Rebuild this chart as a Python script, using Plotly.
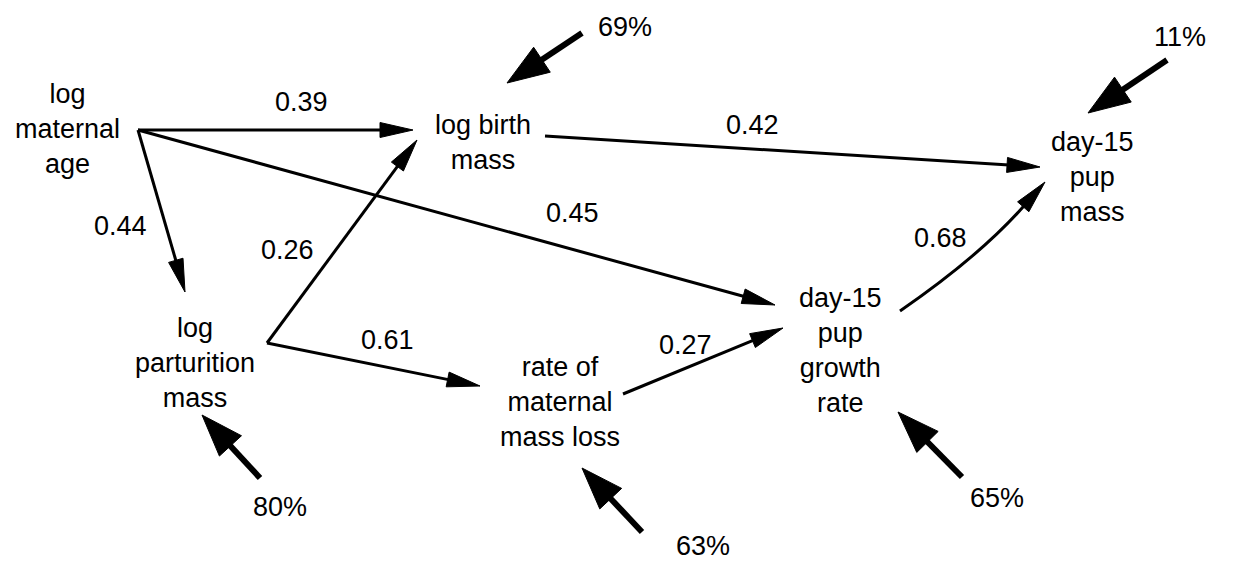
import math
import plotly.graph_objects as go

# path diagram data
variables = ["log<br>maternal<br>age", "log birth<br>mass", "day-15<br>pup<br>mass",
             "log<br>parturition<br>mass", "rate of<br>maternal<br>mass loss",
             "day-15<br>pup<br>growth<br>rate"]
path_from = [0, 0, 0, 3, 3, 4, 5, 1]
path_to = [1, 3, 5, 1, 4, 5, 2, 2]
path_coef = ["0.39", "0.44", "0.45", "0.26", "0.61", "0.27", "0.68", "0.42"]
residual_var = [1, 2, 3, 4, 5]
residual_pct = ["69%", "11%", "80%", "63%", "65%"]

# layout geometry (pixels of a 1234x562 canvas)
node_xy = [(67, 129), (483, 142), (1092, 177), (195, 363), (560, 402), (840, 350)]
path_geom = [  # start, end, label position, bend
    ((138, 130), (413, 130), (301, 102), 0),
    ((138, 130), (185, 292), (120, 226), 0),
    ((138, 130), (775, 305), (572, 213), 0),
    ((267, 343), (417, 140), (287, 250), 0),
    ((267, 343), (480, 386), (387, 340), 0),
    ((623, 394), (783, 328), (685, 345), 0),
    ((900, 311), (1045, 182), (940, 238), 12),
    ((545, 136), (1040, 167), (752, 125), 0),
]
resid_geom = [
    ((582, 33), (507, 83), (625, 27)),
    ((1167, 60), (1088, 113), (1180, 37)),
    ((260, 478), (202, 415), (280, 507)),
    ((642, 532), (582, 468), (703, 546)),
    ((962, 477), (898, 412), (997, 498)),
]

FONT = dict(family="Liberation Sans, Arial, sans-serif", size=27, color="black")

fig = go.Figure()
shapes = []
annotations = []


def add_arrow(p0, p1, lw, hl, hw, bend=0):
    x0, y0 = p0
    x1, y1 = p1
    if bend:
        mx, my = (x0 + x1) / 2, (y0 + y1) / 2
        dx, dy = x1 - x0, y1 - y0
        L = math.hypot(dx, dy)
        cx, cy = mx - dy / L * bend, my + dx / L * bend
        # direction at the tip
        ux, uy = x1 - cx, y1 - cy
    else:
        ux, uy = x1 - x0, y1 - y0
    L = math.hypot(ux, uy)
    ux, uy = ux / L, uy / L
    bx, by = x1 - ux * hl, y1 - uy * hl
    sx, sy = x1 - ux * (hl - 2), y1 - uy * (hl - 2)
    if bend:
        shaft = f"M{x0},{y0} Q{cx},{cy} {sx},{sy}"
    else:
        shaft = f"M{x0},{y0} L{sx},{sy}"
    shapes.append(dict(type="path", path=shaft, xref="x", yref="y",
                       line=dict(color="black", width=lw)))
    px, py = -uy, ux
    head = (f"M{x1},{y1} L{bx + px * hw},{by + py * hw} "
            f"L{bx - px * hw},{by - py * hw} Z")
    shapes.append(dict(type="path", path=head, xref="x", yref="y",
                       fillcolor="black", line=dict(color="black", width=1)))


for i in range(len(path_coef)):
    p0, p1, lab, bend = path_geom[i]
    add_arrow(p0, p1, 3, 33, 7.5, bend)
    annotations.append(dict(x=lab[0], y=lab[1], text=path_coef[i], showarrow=False,
                            xref="x", yref="y", font=FONT))

for i in range(len(residual_pct)):
    p0, p1, lab = resid_geom[i]
    add_arrow(p0, p1, 6, 42, 15)
    annotations.append(dict(x=lab[0], y=lab[1], text=residual_pct[i], showarrow=False,
                            xref="x", yref="y", font=FONT))

for name, (x, y) in zip(variables, node_xy):
    annotations.append(dict(x=x, y=y, text=name, showarrow=False, xref="x", yref="y",
                            font=FONT, align="center"))

fig.update_layout(
    width=1234, height=562,
    margin=dict(l=0, r=0, t=0, b=0),
    paper_bgcolor="white", plot_bgcolor="white",
    xaxis=dict(range=[0, 1234], visible=False, fixedrange=True),
    yaxis=dict(range=[562, 0], visible=False, fixedrange=True),
    shapes=shapes, annotations=annotations, showlegend=False,
)

# drop the page's default body margin so the figure sits at the top-left corner
fig.write_html("out.html", config={"displayModeBar": False},
               post_script="document.body.style.margin='0';")
